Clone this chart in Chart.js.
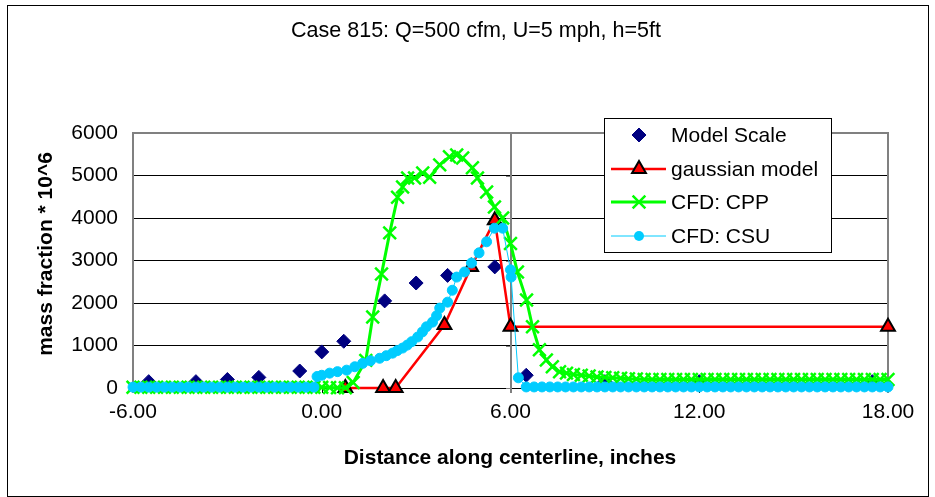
<!DOCTYPE html>
<html>
<head>
<meta charset="utf-8">
<script src="https://cdn.jsdelivr.net/npm/chart.js@4.4.1/dist/chart.umd.min.js"></script>
<style>
  html, body { margin: 0; padding: 0; background: #fff; }
  #wrap { position: relative; width: 935px; height: 497px; }
</style>
</head>
<body>
<div id="wrap"><canvas id="chart"></canvas></div>
<script>
// --- values ---
const chartTitle = 'Case 815: Q=500 cfm, U=5 mph, h=5ft';
const xTitle = 'Distance along centerline, inches';
const yTitle = 'mass fraction * 10^6';
const xTicks = [-6, 0, 6, 12, 18];
const yTicks = [0, 1000, 2000, 3000, 4000, 5000, 6000];
const yAxisCross = 6; // vertical axis crosses here

const modelScaleX = [-5.5, -4.0, -3.0, -2.0, -0.7, 0.0, 0.7, 2.0, 3.0, 4.0, 5.5, 6.5, 9.0, 12.0, 17.5];
const modelScaleY = [150, 150, 200, 250, 400, 850, 1100, 2050, 2470, 2650, 2850, 300, 150, 150, 150];

const gaussX = [0.75, 1.95, 2.35, 3.9, 4.75, 5.5, 6.0, 18.0];
const gaussY = [0, 0, 0, 1480, 2850, 3950, 1440, 1440];

const cppX = [-6.00, -5.75, -5.50, -5.25, -5.00, -4.75, -4.50, -4.25, -4.00, -3.75, -3.50, -3.25, -3.00, -2.75,
  -2.50, -2.25, -2.00, -1.75, -1.50, -1.25, -1.00, -0.75, -0.50, -0.25, 0.00, 0.25, 0.50, 0.75,
  1.00, 1.40, 1.62, 1.90, 2.16, 2.41, 2.57, 2.73, 2.95, 3.21, 3.43, 3.75, 4.06, 4.29, 4.48, 4.79, 4.95,
  5.24, 5.49, 5.75, 6.00, 6.22, 6.51, 6.70, 6.92, 7.14, 7.33, 7.56, 7.78,
  8.00, 8.25, 8.50, 8.75, 9.00, 9.25, 9.50, 9.75, 10.00, 10.25, 10.50, 10.75, 11.00, 11.25, 11.50, 11.75,
  12.00, 12.25, 12.50, 12.75, 13.00, 13.25, 13.50, 13.75, 14.00, 14.25, 14.50, 14.75, 15.00, 15.25,
  15.50, 15.75, 16.00, 16.25, 16.50, 16.75, 17.00, 17.25, 17.50, 17.75, 18.00];
const cppY = [20, 20, 20, 20, 20, 20, 20, 20, 20, 20, 20, 20, 20, 20,
  20, 20, 20, 20, 20, 20, 20, 20, 20, 20, 15, 10, 5, 5,
  130, 650, 1670, 2680, 3650, 4490, 4730, 4940, 4940, 5060, 4960, 5250, 5440, 5480, 5410, 5180, 4940,
  4610, 4260, 4000, 3400, 2730, 2070, 1440, 900, 660, 500, 380, 350,
  320, 300, 280, 260, 250, 240, 230, 220, 210, 200, 200, 200, 200, 200, 200, 200,
  200, 200, 200, 200, 200, 200, 200, 200, 200, 200, 200, 200, 200, 200,
  200, 200, 200, 200, 200, 200, 200, 200, 200, 200, 200];

const csuX = [-6.00, -5.75, -5.50, -5.25, -5.00, -4.75, -4.50, -4.25, -4.00, -3.75, -3.50, -3.25, -3.00, -2.75,
  -2.50, -2.25, -2.00, -1.75, -1.50, -1.25, -1.00, -0.75, -0.50, -0.25,
  -0.15, 0.00, 0.25, 0.50, 0.79, 1.05, 1.30, 1.55, 1.84, 2.05, 2.25, 2.40, 2.57, 2.72, 2.86, 3.05, 3.20,
  3.33, 3.52, 3.65, 3.75, 4.00, 4.15, 4.29, 4.54, 4.76, 5.00, 5.24, 5.49, 5.75, 6.00, 6.02, 6.25, 6.50,
  6.75, 7.00, 7.25, 7.50, 7.75, 8.00, 8.25, 8.50, 8.75, 9.00, 9.25, 9.50, 9.75, 10.00, 10.25, 10.50,
  10.75, 11.00, 11.25, 11.50, 11.75, 12.00, 12.25, 12.50, 12.75, 13.00, 13.25, 13.50, 13.75, 14.00,
  14.25, 14.50, 14.75, 15.00, 15.25, 15.50, 15.75, 16.00, 16.25, 16.50, 16.75, 17.00, 17.25, 17.50,
  17.75, 18.00];
const csuY = [20, 20, 20, 20, 20, 20, 20, 20, 20, 20, 20, 20, 20, 20,
  20, 20, 20, 20, 20, 20, 20, 20, 20, 20,
  270, 300, 350, 385, 420, 500, 580, 640, 700, 760, 820, 880, 940, 1010, 1090, 1200, 1320,
  1440, 1550, 1700, 1880, 2020, 2300, 2610, 2730, 2940, 3180, 3440, 3760, 3760, 2780, 2610, 240, 25,
  25, 25, 25, 25, 25, 25, 25, 25, 25, 25, 25, 25, 25, 25, 25, 25,
  25, 25, 25, 25, 25, 25, 25, 25, 25, 25, 25, 25, 25, 25,
  25, 25, 25, 25, 25, 25, 25, 25, 25, 25, 25, 25, 25, 25,
  25, 25];

const FONT = "'Liberation Sans', Arial, sans-serif";
const pairs = (xs, ys) => xs.map((x, i) => ({ x: x, y: ys[i] }));

// legend rows: label + how to draw the sample
const legendItems = [
  { text: 'Model Scale', line: null, lw: 0, style: 'rectRot', r: 7, fill: '#000080', stroke: '#000080', bw: 1 },
  { text: 'gaussian model', line: '#FF0000', lw: 2.5, style: 'triangle', r: 8, fill: '#FF0000', stroke: '#000000', bw: 2 },
  { text: 'CFD: CPP', line: '#00FF00', lw: 3, style: 'crossRot', r: 9, fill: '#00FF00', stroke: '#00FF00', bw: 2.5 },
  { text: 'CFD: CSU', line: '#00CCFF', lw: 1, style: 'circle', r: 5, fill: '#00CCFF', stroke: '#00CCFF', bw: 1 }
];

function drawMarker(ctx, it, x, y) {
  ctx.save();
  ctx.fillStyle = it.fill;
  ctx.strokeStyle = it.stroke;
  ctx.lineWidth = it.bw;
  ctx.beginPath();
  const r = it.r;
  if (it.style === 'rectRot') {
    ctx.moveTo(x, y - r); ctx.lineTo(x + r, y); ctx.lineTo(x, y + r); ctx.lineTo(x - r, y); ctx.closePath();
    ctx.fill(); ctx.stroke();
  } else if (it.style === 'triangle') {
    ctx.moveTo(x, y - r); ctx.lineTo(x + r * 0.866, y + r / 2); ctx.lineTo(x - r * 0.866, y + r / 2); ctx.closePath();
    ctx.fill(); ctx.stroke();
  } else if (it.style === 'crossRot') {
    const d = r * 0.707;
    ctx.moveTo(x - d, y - d); ctx.lineTo(x + d, y + d);
    ctx.moveTo(x + d, y - d); ctx.lineTo(x - d, y + d);
    ctx.stroke();
  } else {
    ctx.arc(x, y, r, 0, Math.PI * 2);
    ctx.fill();
  }
  ctx.restore();
}

const decor = {
  id: 'decor',
  beforeDatasetsDraw(chart) {
    const { ctx, chartArea: a, scales } = chart;
    const xs = scales.x, ys = scales.y;
    ctx.save();
    // x-axis line and its tick marks
    ctx.strokeStyle = '#000'; ctx.lineWidth = 1;
    ctx.beginPath();
    ctx.moveTo(a.left, a.bottom + 0.5); ctx.lineTo(a.right, a.bottom + 0.5);
    xTicks.forEach(v => {
      const px = Math.round(xs.getPixelForValue(v)) + 0.5;
      ctx.moveTo(px, a.bottom); ctx.lineTo(px, a.bottom + 5);
    });
    ctx.stroke();
    // plot frame (grey)
    ctx.strokeStyle = '#808080'; ctx.lineWidth = 2;
    ctx.beginPath();
    ctx.moveTo(a.left, a.bottom + 5); ctx.lineTo(a.left, a.top); ctx.lineTo(a.right, a.top); ctx.lineTo(a.right, a.bottom + 5);
    ctx.stroke();
    // vertical axis crossing at x = 6, with its ticks
    const vx = Math.round(xs.getPixelForValue(yAxisCross));
    ctx.beginPath();
    ctx.moveTo(vx, a.top); ctx.lineTo(vx, a.bottom + 5);
    ctx.stroke();
    ctx.lineWidth = 1;
    ctx.beginPath();
    yTicks.forEach(v => {
      const py = Math.round(ys.getPixelForValue(v)) + 0.5;
      ctx.moveTo(vx - 5, py); ctx.lineTo(vx, py);
    });
    ctx.stroke();
    ctx.restore();
  },
  afterDraw(chart) {
    const { ctx } = chart;
    ctx.save();
    // outer border
    ctx.strokeStyle = '#000'; ctx.lineWidth = 1;
    ctx.strokeRect(7.5, 5.5, 921, 491);
    // titles
    ctx.fillStyle = '#000';
    ctx.textAlign = 'center'; ctx.textBaseline = 'middle';
    ctx.font = '21.5px ' + FONT;
    ctx.fillText(chartTitle, 476, 31);
    ctx.font = 'bold 21px ' + FONT;
    ctx.fillText(xTitle, 510, 458);
    ctx.save();
    ctx.translate(46, 254);
    ctx.rotate(-Math.PI / 2);
    ctx.fillText(yTitle, 0, 0);
    ctx.restore();
    // legend
    const L = 604, T = 118, R = 831, B = 252;
    ctx.fillStyle = '#fff';
    ctx.fillRect(L, T, R - L, B - T);
    ctx.strokeStyle = '#000'; ctx.lineWidth = 1;
    ctx.strokeRect(L + 0.5, T + 0.5, R - L, B - T);
    const rowY = [135, 169, 202, 236];
    ctx.font = '21px ' + FONT;
    ctx.textAlign = 'left';
    legendItems.forEach((it, i) => {
      const y = rowY[i];
      if (it.line) {
        ctx.strokeStyle = it.line; ctx.lineWidth = it.lw;
        ctx.beginPath(); ctx.moveTo(611, y); ctx.lineTo(666, y); ctx.stroke();
      }
      drawMarker(ctx, it, 639, y);
      ctx.fillStyle = '#000';
      ctx.fillText(it.text, 671, y + 1);
    });
    ctx.restore();
  }
};

new Chart(document.getElementById('chart'), {
  type: 'scatter',
  data: {
    datasets: [
      {
        label: 'CFD: CSU', data: pairs(csuX, csuY), showLine: true, order: 1,
        borderColor: '#00CCFF', borderWidth: 1, backgroundColor: '#00CCFF',
        pointStyle: 'circle', pointRadius: 5, pointBorderWidth: 1, clip: false
      },
      {
        label: 'CFD: CPP', data: pairs(cppX, cppY), showLine: true, order: 2,
        borderColor: '#00FF00', borderWidth: 3, backgroundColor: '#00FF00',
        pointStyle: 'crossRot', pointRadius: 9, pointBorderWidth: 2.5, clip: false
      },
      {
        label: 'gaussian model', data: pairs(gaussX, gaussY), showLine: true, order: 3,
        borderColor: '#FF0000', borderWidth: 2.5, backgroundColor: '#FF0000',
        pointStyle: 'triangle', pointRadius: 8, pointBorderColor: '#000000',
        pointBackgroundColor: '#FF0000', pointBorderWidth: 2, clip: false
      },
      {
        label: 'Model Scale', data: pairs(modelScaleX, modelScaleY), showLine: false, order: 4,
        borderColor: '#000080', backgroundColor: '#000080',
        pointStyle: 'rectRot', pointRadius: 7, pointBorderWidth: 1, clip: false
      }
    ]
  },
  options: {
    responsive: true,
    maintainAspectRatio: false,
    animation: false,
    events: [],
    layout: { padding: { top: 133, right: 47, left: 0, bottom: 0 } },
    plugins: { legend: { display: false }, tooltip: { enabled: false }, title: { display: false } },
    scales: {
      x: {
        type: 'linear', min: -6, max: 18,
        afterBuildTicks: s => { s.ticks = xTicks.map(v => ({ value: v })); },
        afterFit: s => { s.height = 109; },
        grid: { display: false, drawTicks: false },
        border: { display: false },
        ticks: { padding: 12, color: '#000', font: { family: FONT, size: 21 }, callback: v => v.toFixed(2), maxRotation: 0 }
      },
      y: {
        type: 'linear', min: 0, max: 6000,
        afterBuildTicks: s => { s.ticks = yTicks.map(v => ({ value: v })); },
        afterFit: s => { s.width = 133; },
        grid: {
          drawTicks: false,
          color: c => (c.tick.value === 6000 || c.tick.value === 0) ? 'rgba(0,0,0,0)' : '#000',
          lineWidth: 1
        },
        border: { display: false },
        ticks: { padding: 15, color: '#000', font: { family: FONT, size: 21 }, callback: v => String(v) }
      }
    }
  },
  plugins: [decor]
});
</script>
</body>
</html>
